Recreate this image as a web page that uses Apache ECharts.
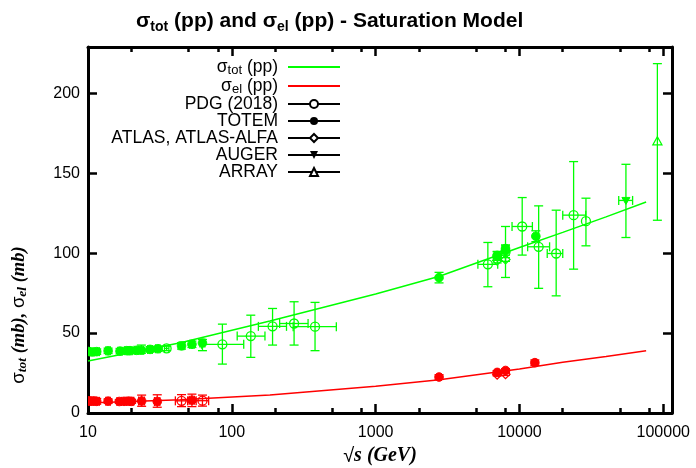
<!DOCTYPE html>
<html>
<head>
<meta charset="utf-8">
<script src="https://cdn.jsdelivr.net/npm/echarts@6/dist/echarts.min.js"></script>
<style>
  html, body { margin: 0; padding: 0; background: #fff; }
  #chart { width: 696px; height: 468px; }
</style>
</head>
<body>
<div id="chart"></div>
<script>
// model curves, [sqrt(s) GeV, sigma mb]
var totCurve = [[10, 32.5], [44, 44], [184, 57.5], [1000, 74.5], [2780, 85.6], [10000, 103.5], [20000, 113], [40000, 122.7], [76000, 132]];
var elCurve = [[10, 6.3], [44, 8.3], [184, 11.3], [1000, 16.8], [2780, 20.8], [10000, 27.5], [20000, 31.7], [40000, 35.4], [76000, 39]];

// measurements: [x, y, xlo, xhi, ylo, yhi]
var lowTot = [
  [10.0, 38.5, 9.6, 10.4, 36.8, 40.2], [10.7, 38.2, 10.3, 11.1, 36.5, 39.9],
  [11.5, 38.4, 11.0, 12.0, 36.7, 40.1], [13.8, 38.9, 13.3, 14.3, 37.2, 40.6],
  [16.7, 38.7, 16.1, 17.3, 37.0, 40.4], [18.6, 39.0, 17.9, 19.3, 37.3, 40.7],
  [19.6, 39.0, 18.9, 20.3, 37.3, 40.7], [21.7, 39.2, 20.9, 22.5, 37.5, 40.9],
  [23.5, 39.3, 22.6, 24.4, 37.3, 42.5], [27.0, 39.8, 26.0, 28.0, 38.1, 41.5],
  [30.6, 40.2, 29.5, 31.7, 38.5, 41.9], [44.7, 42.0, 43.0, 46.4, 40.0, 44.0],
  [52.8, 43.0, 50.8, 54.8, 41.0, 45.0], [62.5, 43.8, 60.0, 65.0, 39.0, 46.0]
];
var pdgTot = [
  [35.2, 40.4, 34.0, 36.5, 39.0, 41.8], [86, 43.0, 61.6, 121, 30.6, 55.6],
  [135.5, 48.1, 109, 170, 34.8, 61.2], [192, 54.2, 153, 240, 42.5, 65.4],
  [271, 56.0, 215, 339, 42.5, 69.6], [379, 54.0, 267, 533, 39.0, 69.2],
  [6030, 93.0, 5140, 7060, 79.0, 106.7], [8000, 100.8, 8000, 8000, 84.8, 116.7],
  [10450, 116.7, 8880, 12300, 98.8, 134.8], [13600, 104.0, 11400, 16200, 78.0, 129.6],
  [18000, 99.8, 15600, 20000, 73.3, 126.9], [23800, 123.8, 20000, 28900, 90.0, 157.3],
  [29000, 120.0, 29000, 29000, 104.6, 134.4]
];
var totemTot = [
  [2760, 84.7, 2760, 2760, 81.4, 88.0], [7000, 98.3, 7000, 7000, 95.5, 101.1],
  [7000, 98.6, 7000, 7000, 96.4, 100.8], [8000, 101.7, 8000, 8000, 98.8, 104.6],
  [8000, 102.9, 8000, 8000, 100.6, 105.2], [13000, 110.6, 13000, 13000, 107.2, 114.0]
];
var atlasTot = [[7000, 95.4, 7000, 7000, 93.9, 96.8], [8000, 96.1, 8000, 8000, 94.9, 97.2]];
var augerTot = [[55000, 133, 49000, 61200, 109.8, 155.6]];
var arrayTot = [[91000, 170, 91000, 91000, 120.6, 218.6]];

var lowEl = [
  [10.0, 7.6, 9.6, 10.4, 5.8, 9.4], [10.5, 7.4, 10.1, 10.9, 5.6, 9.2],
  [11.0, 7.5, 10.6, 11.4, 5.7, 9.3], [11.5, 7.3, 11.0, 12.0, 5.5, 9.1],
  [13.8, 7.4, 13.3, 14.3, 6.0, 8.8], [16.5, 7.2, 15.9, 17.1, 6.0, 8.4],
  [17.8, 7.3, 17.1, 18.5, 6.1, 8.5], [19.1, 7.4, 18.4, 19.8, 6.2, 8.6],
  [20.1, 7.3, 19.4, 20.8, 6.1, 8.5], [23.6, 7.5, 22.5, 24.7, 4.2, 11.2],
  [30.3, 7.2, 29.0, 31.6, 3.6, 11.4], [52.8, 8.0, 50.5, 55.0, 4.0, 11.8]
];
var pdgEl = [[44.7, 7.6, 40.5, 49.3, 4.0, 11.5], [62.5, 7.7, 56.5, 69.0, 4.3, 11.2]];
var totemEl = [
  [2760, 22.5, 2760, 2760, 21.0, 24.0], [7000, 25.4, 7000, 7000, 24.3, 26.5],
  [8000, 26.6, 8000, 8000, 25.5, 27.7], [12800, 31.5, 12800, 12800, 29.8, 33.2]
];
var atlasEl = [[7000, 24.0, 7000, 7000, 23.2, 24.8], [8000, 24.3, 8000, 8000, 23.5, 25.1]];

var minorX = [20, 50, 80, 200, 500, 800, 2000, 5000, 8000, 20000, 50000, 80000];
var legendNames = ['σtot (pp)', 'σel (pp)', 'PDG (2018)', 'TOTEM', 'ATLAS, ATLAS-ALFA', 'AUGER', 'ARRAY'];

var GREEN = '#00ff00', RED = '#ff0000';
var SANS = 'Liberation Sans', SERIF = 'Liberation Serif';

function marker(kind, cx, cy, color) {
  var open = {stroke: color, fill: 'none', lineWidth: 1.3};
  var full = {stroke: color, fill: color, lineWidth: 1};
  if (kind === 'oc') return {type: 'circle', shape: {cx: cx, cy: cy, r: 4.5}, style: open};
  if (kind === 'fc') return {type: 'circle', shape: {cx: cx, cy: cy, r: 4.3}, style: full};
  if (kind === 'od') return {type: 'polygon', shape: {points: [[cx, cy - 4.5], [cx + 4.5, cy], [cx, cy + 4.5], [cx - 4.5, cy]]}, style: open};
  if (kind === 'dt') return {type: 'polygon', shape: {points: [[cx - 4, cy - 3], [cx + 4, cy - 3], [cx, cy + 4]]}, style: full};
  return {type: 'polygon', shape: {points: [[cx - 4.5, cy + 3.5], [cx + 4.5, cy + 3.5], [cx, cy - 4.5]]}, style: open};
}

function errSeries(data, kind, color) {
  return {
    type: 'custom',
    data: data,
    clip: true,
    z: 5,
    encode: {x: 0, y: 1},
    renderItem: function (params, api) {
      var x = api.value(0), y = api.value(1);
      var c = api.coord([x, y]);
      var st = {stroke: color, lineWidth: 1.3};
      var cap = 4.5;
      var kids = [];
      var lo = api.coord([x, api.value(4)]), hi = api.coord([x, api.value(5)]);
      if (Math.abs(lo[1] - hi[1]) > 1) {
        kids.push({type: 'line', shape: {x1: c[0], y1: lo[1], x2: c[0], y2: hi[1]}, style: st});
        kids.push({type: 'line', shape: {x1: c[0] - cap, y1: lo[1], x2: c[0] + cap, y2: lo[1]}, style: st});
        kids.push({type: 'line', shape: {x1: c[0] - cap, y1: hi[1], x2: c[0] + cap, y2: hi[1]}, style: st});
      }
      var xl = api.coord([api.value(2), y]), xh = api.coord([api.value(3), y]);
      if (xh[0] - xl[0] > 1) {
        kids.push({type: 'line', shape: {x1: xl[0], y1: c[1], x2: xh[0], y2: c[1]}, style: st});
        kids.push({type: 'line', shape: {x1: xl[0], y1: c[1] - cap, x2: xl[0], y2: c[1] + cap}, style: st});
        kids.push({type: 'line', shape: {x1: xh[0], y1: c[1] - cap, x2: xh[0], y2: c[1] + cap}, style: st});
      }
      kids.push(marker(kind, c[0], c[1], color));
      return {type: 'group', children: kids};
    }
  };
}

function legendDummy(name, symbol, rotate) {
  return {name: name, type: 'line', data: [], symbol: symbol, symbolRotate: rotate || 0,
    itemStyle: {color: '#000'}, lineStyle: {color: '#000', width: 1.5}};
}

function curve(name, data, color) {
  return {name: name, type: 'line', data: data, symbol: 'circle', showSymbol: false,
    itemStyle: {color: color}, lineStyle: {color: color, width: 1.5}, z: 3};
}

var tickX = {inside: true, length: 9, lineStyle: {color: '#000', width: 2.5}};
var minorTickX = {inside: true, length: 5, customValues: minorX, lineStyle: {color: '#000', width: 2.5}};
var frameLine = {show: true, lineStyle: {color: '#000', width: 3}};
var logAxis = {type: 'log', logBase: 10, min: 10, max: 115000, splitLine: {show: false}};

var myChart = echarts.init(document.getElementById('chart'));

myChart.setOption({
  animation: false,
  backgroundColor: '#fff',
  title: {
    text: '{s|σ}{sub|tot}{s| (pp) and σ}{sub|el}{s| (pp) - Saturation Model}',
    left: 131,
    top: 4,
    textStyle: {
      rich: {
        s: {fontFamily: SANS, fontWeight: 'bold', fontSize: 21, lineHeight: 24, color: '#000'},
        sub: {fontFamily: SANS, fontWeight: 'bold', fontSize: 14, lineHeight: 14, padding: [12, 0, 0, 0], color: '#000'}
      }
    }
  },
  legend: {
    data: legendNames.map(function (n, i) {
      return i < 2 ? {name: n, itemStyle: {opacity: 0}} : {name: n};
    }),
    orient: 'vertical',
    align: 'right',
    right: 355,
    top: 57,
    padding: 0,
    itemWidth: 52,
    itemHeight: 10,
    itemGap: -1.0,
    selectedMode: false,
    formatter: function (name) {
      if (name === 'σtot (pp)') return '{s|σ}{sub|tot}{s| (pp)}{g| }';
      if (name === 'σel (pp)') return '{s|σ}{sub|el}{s| (pp)}{g| }';
      return '{s|' + name + '}{g| }';
    },
    textStyle: {
      lineHeight: 17,
      rich: {
        s: {fontFamily: SANS, fontSize: 17.5, lineHeight: 17, color: '#000'},
        sub: {fontFamily: SANS, fontSize: 13, lineHeight: 10, padding: [7, 0, 0, 0], color: '#000'},
        g: {width: 5, fontSize: 16, lineHeight: 17}
      }
    }
  },
  grid: {left: 88, right: 24, top: 47, bottom: 55},
  xAxis: [
    Object.assign({}, logAxis, {
      position: 'bottom',
      axisLine: frameLine,
      axisTick: tickX,
      axisLabel: {fontFamily: SANS, fontSize: 16, color: '#000', margin: 12, showMaxLabel: false,
        formatter: function (v) { return String(Math.round(v)); }}
    }),
    Object.assign({}, logAxis, {position: 'bottom', axisLine: {show: false}, axisTick: minorTickX, axisLabel: {show: false}}),
    Object.assign({}, logAxis, {position: 'top', axisLine: frameLine, axisTick: tickX, axisLabel: {show: false}}),
    Object.assign({}, logAxis, {position: 'top', axisLine: {show: false}, axisTick: minorTickX, axisLabel: {show: false}})
  ],
  yAxis: [
    {
      type: 'value', min: 0, max: 229, interval: 50, position: 'left',
      splitLine: {show: false},
      axisLine: frameLine,
      axisTick: {inside: true, length: 9, lineStyle: {color: '#000', width: 2.5}},
      axisLabel: {fontFamily: SANS, fontSize: 16, color: '#000', margin: 8, showMaxLabel: false}
    },
    {
      type: 'value', min: 0, max: 229, interval: 50, position: 'right',
      splitLine: {show: false},
      axisLine: frameLine,
      axisTick: {inside: true, length: 9, lineStyle: {color: '#000', width: 2.5}},
      axisLabel: {show: false}
    }
  ],
  graphic: [
    {
      type: 'text', x: 380, y: 456,
      style: {
        text: '{r|√}{i|s (GeV)}', align: 'center', verticalAlign: 'middle',
        rich: {
          r: {fontFamily: SANS, fontSize: 20, fill: '#000'},
          i: {fontFamily: SERIF, fontStyle: 'italic', fontWeight: 'bold', fontSize: 20, fill: '#000'}
        }
      }
    },
    {
      type: 'text', x: 19, y: 315, rotation: Math.PI / 2,
      style: {
        text: '{r|σ}{sub|tot}{i| (mb), }{r|σ}{sub|el}{i| (mb)}', align: 'center', verticalAlign: 'middle',
        rich: {
          r: {fontFamily: SANS, fontSize: 18.5, lineHeight: 20, fill: '#000'},
          i: {fontFamily: SERIF, fontStyle: 'italic', fontWeight: 'bold', fontSize: 18.5, lineHeight: 20, fill: '#000'},
          sub: {fontFamily: SERIF, fontStyle: 'italic', fontWeight: 'bold', fontSize: 13.5, lineHeight: 12, padding: [8, 0, 0, 0], fill: '#000'}
        }
      }
    }
  ],
  series: [
    curve('σtot (pp)', totCurve, GREEN),
    curve('σel (pp)', elCurve, RED),
    legendDummy('PDG (2018)', 'emptyCircle'),
    legendDummy('TOTEM', 'circle'),
    legendDummy('ATLAS, ATLAS-ALFA', 'emptyDiamond'),
    legendDummy('AUGER', 'triangle', 180),
    legendDummy('ARRAY', 'emptyTriangle'),
    errSeries(lowTot, 'fc', GREEN),
    errSeries(pdgTot, 'oc', GREEN),
    errSeries(totemTot, 'fc', GREEN),
    errSeries(atlasTot, 'od', GREEN),
    errSeries(augerTot, 'dt', GREEN),
    errSeries(arrayTot, 'ot', GREEN),
    errSeries(lowEl, 'fc', RED),
    errSeries(pdgEl, 'oc', RED),
    errSeries(totemEl, 'fc', RED),
    errSeries(atlasEl, 'od', RED)
  ]
});
</script>
</body>
</html>
